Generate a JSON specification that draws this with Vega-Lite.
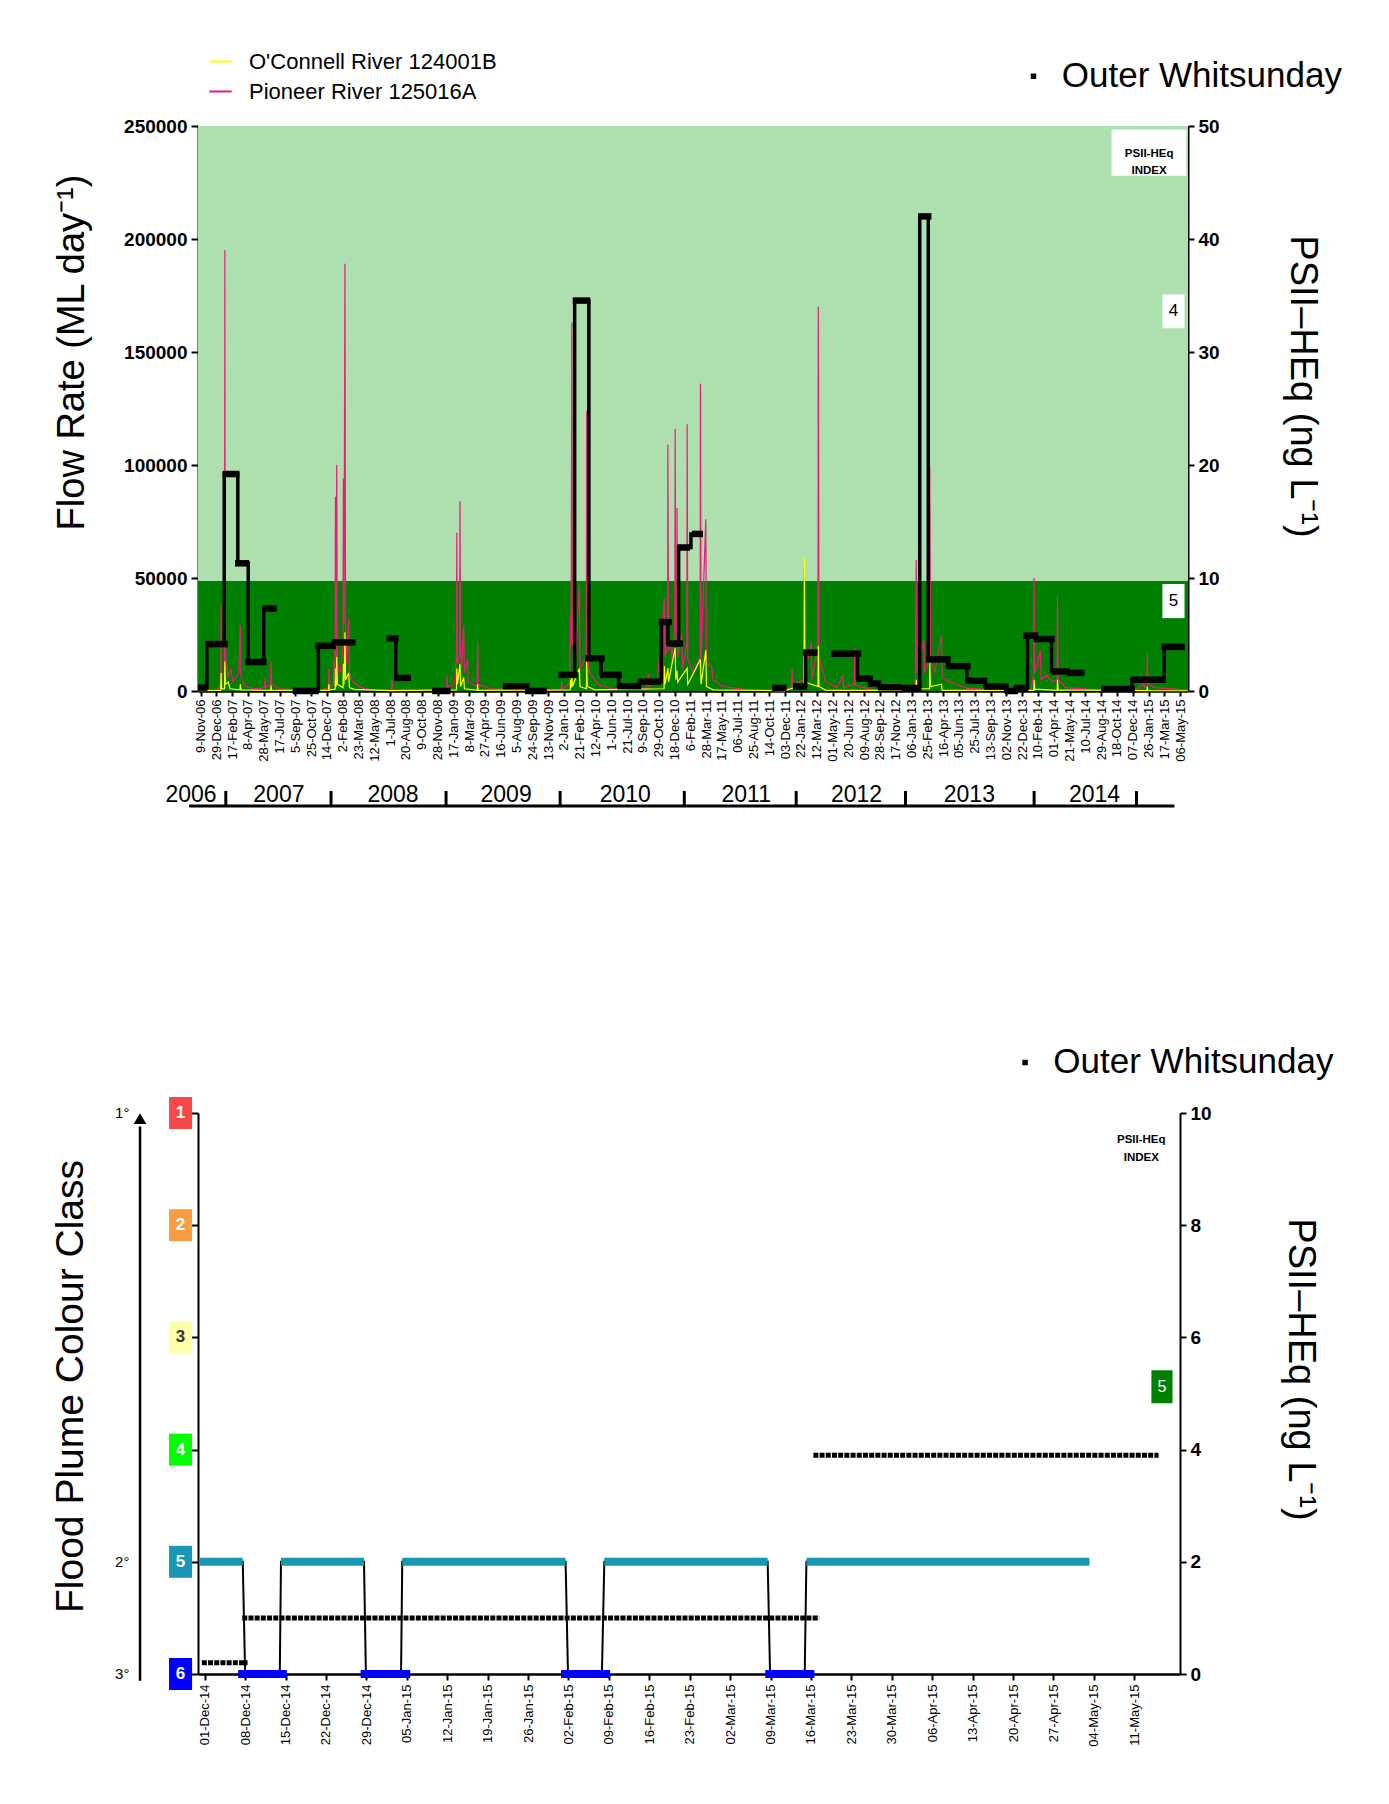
{
"$schema":"https://vega.github.io/schema/vega-lite/v6.json",
"padding":{"left":50,"top":49,"right":0,"bottom":0},
"background":"white",
"config":{"font":"Liberation Sans","view":{"stroke":null},
"axis":{"grid":false,"domainColor":"black","domainWidth":2,"tickColor":"black","tickWidth":2,"labelColor":"black","titleColor":"black","titleFontWeight":"normal","labelFont":"Liberation Sans","titleFont":"Liberation Sans","labelOverlap":false},
"axisX":{"labelOverlap":false}},
"resolve":{"scale":{"color":"independent"}},
"datasets":{
"pioneer":[{"d":"2006-11-01","f":300},{"d":"2006-12-20","f":500},{"d":"2007-01-05","f":800},{"d":"2007-01-12","f":3000},{"d":"2007-01-13","f":38000},{"d":"2007-01-14","f":6000},{"d":"2007-01-24","f":8000},{"d":"2007-01-25","f":195000},{"d":"2007-01-26","f":30000},{"d":"2007-01-27","f":33000},{"d":"2007-01-28","f":12000},{"d":"2007-02-02","f":9000},{"d":"2007-02-05","f":6000},{"d":"2007-02-12","f":10000},{"d":"2007-02-20","f":4000},{"d":"2007-03-10","f":8000},{"d":"2007-03-15","f":29000},{"d":"2007-03-17","f":6000},{"d":"2007-04-01","f":2000},{"d":"2007-05-01","f":800},{"d":"2007-05-30","f":1500},{"d":"2007-06-01","f":5500},{"d":"2007-06-03","f":1500},{"d":"2007-06-18","f":3000},{"d":"2007-06-20","f":13000},{"d":"2007-06-22","f":3000},{"d":"2007-07-15","f":1000},{"d":"2007-10-01","f":300},{"d":"2007-12-01","f":500},{"d":"2007-12-19","f":1500},{"d":"2007-12-20","f":10000},{"d":"2007-12-22","f":2000},{"d":"2008-01-04","f":3000},{"d":"2008-01-05","f":13000},{"d":"2008-01-07","f":4000},{"d":"2008-01-09","f":20000},{"d":"2008-01-10","f":86000},{"d":"2008-01-12","f":15000},{"d":"2008-01-14","f":100000},{"d":"2008-01-16","f":12000},{"d":"2008-01-25","f":8000},{"d":"2008-02-03","f":20000},{"d":"2008-02-04","f":94000},{"d":"2008-02-06","f":30000},{"d":"2008-02-09","f":189000},{"d":"2008-02-11","f":25000},{"d":"2008-02-14","f":12000},{"d":"2008-02-21","f":32000},{"d":"2008-02-23","f":8000},{"d":"2008-03-05","f":4000},{"d":"2008-04-01","f":1500},{"d":"2008-05-01","f":600},{"d":"2008-07-05","f":600},{"d":"2008-07-07","f":5000},{"d":"2008-07-09","f":600},{"d":"2008-10-01","f":300},{"d":"2008-12-20","f":500},{"d":"2008-12-27","f":1500},{"d":"2008-12-28","f":6600},{"d":"2008-12-30","f":1500},{"d":"2009-01-20","f":3000},{"d":"2009-01-27","f":15000},{"d":"2009-01-28","f":70000},{"d":"2009-01-30","f":12000},{"d":"2009-02-06","f":15000},{"d":"2009-02-07","f":84000},{"d":"2009-02-09","f":20000},{"d":"2009-02-12","f":10000},{"d":"2009-02-19","f":29000},{"d":"2009-02-21","f":8000},{"d":"2009-03-03","f":14000},{"d":"2009-03-05","f":4000},{"d":"2009-04-02","f":2000},{"d":"2009-04-04","f":22000},{"d":"2009-04-06","f":3000},{"d":"2009-05-15","f":1000},{"d":"2009-08-01","f":400},{"d":"2009-12-01","f":300},{"d":"2009-12-24","f":800},{"d":"2009-12-26","f":4000},{"d":"2009-12-28","f":1000},{"d":"2010-01-20","f":3000},{"d":"2010-01-23","f":33000},{"d":"2010-01-25","f":20000},{"d":"2010-01-27","f":163000},{"d":"2010-01-29","f":20000},{"d":"2010-02-05","f":40000},{"d":"2010-02-07","f":12000},{"d":"2010-02-20","f":47000},{"d":"2010-02-22","f":10000},{"d":"2010-03-14","f":15000},{"d":"2010-03-15","f":124000},{"d":"2010-03-17","f":15000},{"d":"2010-03-25","f":8000},{"d":"2010-04-20","f":3000},{"d":"2010-06-01","f":1000},{"d":"2010-09-20","f":1000},{"d":"2010-09-27","f":7500},{"d":"2010-09-29","f":2000},{"d":"2010-10-25","f":5000},{"d":"2010-11-16","f":41000},{"d":"2010-11-18","f":15000},{"d":"2010-11-26","f":20000},{"d":"2010-11-27","f":109000},{"d":"2010-11-29","f":18000},{"d":"2010-12-07","f":21600},{"d":"2010-12-10","f":12000},{"d":"2010-12-19","f":30000},{"d":"2010-12-20","f":116000},{"d":"2010-12-22","f":20000},{"d":"2010-12-25","f":25000},{"d":"2010-12-26","f":81000},{"d":"2010-12-28","f":15000},{"d":"2011-01-10","f":25000},{"d":"2011-01-12","f":10000},{"d":"2011-01-26","f":20000},{"d":"2011-01-27","f":118000},{"d":"2011-01-29","f":14000},{"d":"2011-02-03","f":12500},{"d":"2011-02-15","f":8000},{"d":"2011-03-09","f":15000},{"d":"2011-03-10","f":136000},{"d":"2011-03-12","f":14000},{"d":"2011-03-27","f":76000},{"d":"2011-03-29","f":12000},{"d":"2011-04-15","f":11000},{"d":"2011-04-18","f":5000},{"d":"2011-05-20","f":2000},{"d":"2011-08-01","f":600},{"d":"2011-12-01","f":400},{"d":"2011-12-24","f":2000},{"d":"2011-12-25","f":10000},{"d":"2011-12-27","f":2500},{"d":"2012-01-30","f":5000},{"d":"2012-02-02","f":55000},{"d":"2012-02-04","f":8000},{"d":"2012-02-24","f":21600},{"d":"2012-02-26","f":5000},{"d":"2012-03-16","f":20000},{"d":"2012-03-17","f":170000},{"d":"2012-03-19","f":15000},{"d":"2012-04-10","f":4000},{"d":"2012-05-15","f":1500},{"d":"2012-06-03","f":6600},{"d":"2012-06-05","f":1500},{"d":"2012-07-09","f":3000},{"d":"2012-07-10","f":19000},{"d":"2012-07-12","f":2500},{"d":"2012-09-01","f":600},{"d":"2012-12-15","f":400},{"d":"2013-01-18","f":3000},{"d":"2013-01-21","f":58000},{"d":"2013-01-23","f":8000},{"d":"2013-02-14","f":22800},{"d":"2013-02-16","f":8000},{"d":"2013-03-04","f":15000},{"d":"2013-03-05","f":99000},{"d":"2013-03-07","f":15000},{"d":"2013-03-20","f":8000},{"d":"2013-04-11","f":25000},{"d":"2013-04-13","f":6000},{"d":"2013-05-20","f":3300},{"d":"2013-07-01","f":1200},{"d":"2013-10-01","f":400},{"d":"2014-01-20","f":800},{"d":"2014-01-28","f":8000},{"d":"2014-01-29","f":50000},{"d":"2014-01-31","f":8000},{"d":"2014-02-18","f":18000},{"d":"2014-02-20","f":5000},{"d":"2014-03-10","f":7000},{"d":"2014-03-25","f":4000},{"d":"2014-04-12","f":5000},{"d":"2014-04-13","f":42000},{"d":"2014-04-15","f":5000},{"d":"2014-05-10","f":1500},{"d":"2014-09-01","f":300},{"d":"2014-12-20","f":600},{"d":"2015-01-10","f":3300},{"d":"2015-01-12","f":1500},{"d":"2015-01-21","f":3000},{"d":"2015-01-22","f":16600},{"d":"2015-01-24","f":3000},{"d":"2015-02-15","f":1500},{"d":"2015-05-31","f":400}],
"oconnell":[{"d":"2006-11-01","f":100},{"d":"2007-01-12","f":300},{"d":"2007-01-13","f":8000},{"d":"2007-01-15","f":1000},{"d":"2007-01-24","f":1000},{"d":"2007-01-25","f":13000},{"d":"2007-01-27","f":3000},{"d":"2007-02-05","f":4000},{"d":"2007-02-10","f":1000},{"d":"2007-03-14","f":500},{"d":"2007-03-15","f":3000},{"d":"2007-03-17","f":500},{"d":"2007-06-19","f":300},{"d":"2007-06-20","f":2500},{"d":"2007-06-22","f":300},{"d":"2007-12-19","f":300},{"d":"2007-12-20","f":3000},{"d":"2007-12-22","f":500},{"d":"2008-01-09","f":800},{"d":"2008-01-10","f":10000},{"d":"2008-01-12","f":2000},{"d":"2008-01-14","f":15000},{"d":"2008-01-16","f":3000},{"d":"2008-02-03","f":1500},{"d":"2008-02-04","f":12000},{"d":"2008-02-06","f":3000},{"d":"2008-02-09","f":26000},{"d":"2008-02-11","f":5000},{"d":"2008-02-21","f":8000},{"d":"2008-02-23","f":1500},{"d":"2008-03-10","f":700},{"d":"2008-07-01","f":200},{"d":"2009-01-27","f":500},{"d":"2009-01-28","f":10000},{"d":"2009-01-30","f":3000},{"d":"2009-02-07","f":12000},{"d":"2009-02-09","f":2000},{"d":"2009-02-19","f":6000},{"d":"2009-02-21","f":1000},{"d":"2009-04-03","f":300},{"d":"2009-04-04","f":3000},{"d":"2009-04-06","f":300},{"d":"2010-01-22","f":500},{"d":"2010-01-23","f":5000},{"d":"2010-01-25","f":1500},{"d":"2010-01-27","f":8000},{"d":"2010-01-29","f":2000},{"d":"2010-02-20","f":10000},{"d":"2010-02-22","f":2000},{"d":"2010-03-14","f":1000},{"d":"2010-03-15","f":13000},{"d":"2010-03-17","f":2000},{"d":"2010-04-10","f":500},{"d":"2010-11-15","f":1000},{"d":"2010-11-16","f":11000},{"d":"2010-11-18","f":3000},{"d":"2010-11-27","f":10000},{"d":"2010-11-29","f":4000},{"d":"2010-12-20","f":19000},{"d":"2010-12-22","f":5000},{"d":"2010-12-26","f":9000},{"d":"2010-12-28","f":4000},{"d":"2011-01-27","f":10000},{"d":"2011-01-29","f":3000},{"d":"2011-03-10","f":14000},{"d":"2011-03-12","f":3000},{"d":"2011-03-27","f":18000},{"d":"2011-03-29","f":2000},{"d":"2011-04-20","f":500},{"d":"2011-12-01","f":100},{"d":"2012-02-01","f":3000},{"d":"2012-02-02","f":59000},{"d":"2012-02-04","f":4000},{"d":"2012-03-16","f":2000},{"d":"2012-03-17","f":20000},{"d":"2012-03-19","f":2000},{"d":"2012-04-10","f":300},{"d":"2013-01-20","f":300},{"d":"2013-01-21","f":5000},{"d":"2013-01-23","f":1000},{"d":"2013-03-04","f":1000},{"d":"2013-03-05","f":12500},{"d":"2013-03-07","f":2000},{"d":"2013-04-11","f":3000},{"d":"2013-04-13","f":300},{"d":"2014-01-28","f":300},{"d":"2014-01-29","f":5000},{"d":"2014-01-31","f":800},{"d":"2014-04-12","f":300},{"d":"2014-04-13","f":5000},{"d":"2014-04-15","f":500},{"d":"2015-01-21","f":200},{"d":"2015-01-22","f":2000},{"d":"2015-01-24","f":200},{"d":"2015-05-31","f":100}],
"steps":[{"run":"A","d":"2006-11-01","v":0.3},{"run":"A","d":"2006-11-29","v":4.15},{"run":"A","d":"2007-01-23","v":19.2},{"run":"A","d":"2007-03-07","v":11.3},{"run":"A","d":"2007-04-09","v":2.56},{"run":"A","d":"2007-05-28","v":7.3},{"run":"A","d":"2007-07-08","v":7.3},
{"run":"B","d":"2007-08-28","v":0},{"run":"B","d":"2007-11-17","v":4.0},{"run":"B","d":"2008-01-05","v":4.3},{"run":"B","d":"2008-03-13","v":4.3},
{"run":"C","d":"2008-06-20","v":4.65},{"run":"C","d":"2008-07-19","v":1.16},{"run":"C","d":"2008-09-05","v":1.16},
{"run":"D","d":"2008-11-11","v":0},{"run":"D","d":"2009-01-08","v":0},
{"run":"E","d":"2009-06-23","v":0.43},{"run":"E","d":"2009-09-08","v":0},{"run":"E","d":"2009-11-09","v":0},
{"run":"F","d":"2009-12-16","v":1.43},{"run":"F","d":"2010-02-05","v":34.55},{"run":"F","d":"2010-03-22","v":2.9},{"run":"F","d":"2010-04-30","v":1.43},{"run":"F","d":"2010-06-24","v":0.43},{"run":"F","d":"2010-08-29","v":0.83},{"run":"F","d":"2010-11-06","v":6.1},{"run":"F","d":"2010-11-27","v":4.2},{"run":"F","d":"2010-12-31","v":12.7},{"run":"F","d":"2011-02-08","v":13.9},{"run":"F","d":"2011-03-18","v":13.9},
{"run":"G","d":"2011-10-23","v":0.27},{"run":"G","d":"2011-12-07","v":0.27},
{"run":"H","d":"2011-12-28","v":0.4},{"run":"H","d":"2012-02-06","v":3.4},{"run":"H","d":"2012-03-14","v":3.4},
{"run":"I","d":"2012-04-27","v":3.3},{"run":"I","d":"2012-07-19","v":1.1},{"run":"I","d":"2012-08-26","v":0.66},{"run":"I","d":"2012-09-25","v":0.33},{"run":"I","d":"2012-12-05","v":0.27},{"run":"I","d":"2013-02-01","v":42.0},{"run":"I","d":"2013-02-28","v":2.8},{"run":"I","d":"2013-04-30","v":2.2},{"run":"I","d":"2013-06-30","v":0.9},{"run":"I","d":"2013-08-27","v":0.4},{"run":"I","d":"2013-10-31","v":0},{"run":"I","d":"2013-11-29","v":0.27},{"run":"I","d":"2014-01-08","v":4.9},{"run":"I","d":"2014-02-02","v":4.6},{"run":"I","d":"2014-03-25","v":1.73},{"run":"I","d":"2014-05-15","v":1.6},{"run":"I","d":"2014-07-07","v":1.6},
{"run":"J","d":"2014-08-30","v":0.17},{"run":"J","d":"2014-12-04","v":1.0},{"run":"J","d":"2015-03-17","v":3.9},{"run":"J","d":"2015-05-21","v":3.9}],
"bars":[{"s":"2006-11-01","e":"2006-12-01","v":0.3},{"s":"2006-11-23","e":"2007-02-04","v":4.15},{"s":"2007-01-18","e":"2007-03-12","v":19.2},{"s":"2007-02-26","e":"2007-04-12","v":11.3},{"s":"2007-03-31","e":"2007-06-06","v":2.56},{"s":"2007-05-25","e":"2007-07-08","v":7.3},{"s":"2007-08-28","e":"2007-11-18","v":0},{"s":"2007-11-06","e":"2008-01-12","v":4.0},{"s":"2007-12-29","e":"2008-03-13","v":4.3},{"s":"2008-06-20","e":"2008-07-28","v":4.65},{"s":"2008-07-15","e":"2008-09-05","v":1.16},{"s":"2008-11-11","e":"2009-01-08","v":0},{"s":"2009-06-23","e":"2009-09-15","v":0.43},{"s":"2009-09-01","e":"2009-11-09","v":0},{"s":"2009-12-16","e":"2010-02-15","v":1.43},{"s":"2010-01-30","e":"2010-03-26","v":34.55},{"s":"2010-03-10","e":"2010-05-11","v":2.9},{"s":"2010-04-26","e":"2010-07-05","v":1.43},{"s":"2010-06-20","e":"2010-09-04","v":0.43},{"s":"2010-08-24","e":"2010-11-06","v":0.83},{"s":"2010-10-29","e":"2010-12-10","v":6.1},{"s":"2010-11-25","e":"2011-01-14","v":4.2},{"s":"2010-12-27","e":"2011-02-05","v":12.7},{"s":"2011-02-11","e":"2011-03-18","v":13.9},{"s":"2011-10-23","e":"2011-12-07","v":0.27},{"s":"2011-12-28","e":"2012-02-10","v":0.4},{"s":"2012-01-29","e":"2012-03-14","v":3.4},{"s":"2012-04-27","e":"2012-07-31","v":3.3},{"s":"2012-07-16","e":"2012-09-06","v":1.1},{"s":"2012-08-22","e":"2012-10-03","v":0.66},{"s":"2012-09-22","e":"2012-12-05","v":0.33},{"s":"2012-12-05","e":"2013-02-06","v":0.27},{"s":"2013-01-27","e":"2013-03-10","v":42.0},{"s":"2013-02-22","e":"2013-05-10","v":2.8},{"s":"2013-04-27","e":"2013-07-12","v":2.2},{"s":"2013-06-27","e":"2013-09-03","v":0.9},{"s":"2013-08-24","e":"2013-11-10","v":0.4},{"s":"2013-10-28","e":"2013-12-09","v":0},{"s":"2013-11-26","e":"2014-01-10","v":0.27},{"s":"2013-12-25","e":"2014-02-11","v":4.9},{"s":"2014-01-29","e":"2014-04-04","v":4.6},{"s":"2014-03-25","e":"2014-05-22","v":1.73},{"s":"2014-05-11","e":"2014-07-07","v":1.6},{"s":"2014-08-30","e":"2014-12-14","v":0.17},{"s":"2014-12-01","e":"2015-03-22","v":1.0},{"s":"2015-03-08","e":"2015-05-21","v":3.9}],
"years":[{"label":"2006","d":"2006-10-10"},{"label":"2007","d":"2007-07-15"},{"label":"2008","d":"2008-07-10"},{"label":"2009","d":"2009-07-03"},{"label":"2010","d":"2010-07-15"},{"label":"2011","d":"2011-08-02"},{"label":"2012","d":"2012-07-16"},{"label":"2013","d":"2013-07-08"},{"label":"2014","d":"2014-08-08"}],
"yearsep":[{"d":"2007-01-28"},{"d":"2007-12-27"},{"d":"2008-12-25"},{"d":"2009-12-21"},{"d":"2011-01-18"},{"d":"2012-01-07"},{"d":"2012-12-18"},{"d":"2014-01-29"},{"d":"2014-12-19"}],
"classes":[{"cls":1},{"cls":2},{"cls":3},{"cls":4},{"cls":5},{"cls":6}],
"degrees":[{"label":"1°","cls":1},{"label":"2°","cls":5},{"label":"3°","cls":6}],
"classline":[{"d":"2014-11-30T00:00:00","cls":5},{"d":"2014-12-07T14:00:00","cls":5},{"d":"2014-12-08T00:00:00","cls":6},{"d":"2014-12-14T00:00:00","cls":6},{"d":"2014-12-14T05:00:00","cls":5},{"d":"2014-12-28T14:00:00","cls":5},{"d":"2014-12-28T22:00:00","cls":6},{"d":"2015-01-04T00:00:00","cls":6},{"d":"2015-01-04T05:00:00","cls":5},{"d":"2015-02-01T12:00:00","cls":5},{"d":"2015-02-01T22:00:00","cls":6},{"d":"2015-02-07T19:00:00","cls":6},{"d":"2015-02-08T05:00:00","cls":5},{"d":"2015-03-08T12:00:00","cls":5},{"d":"2015-03-08T22:00:00","cls":6},{"d":"2015-03-14T22:00:00","cls":6},{"d":"2015-03-15T05:00:00","cls":5},{"d":"2015-05-03T05:00:00","cls":5}],
"segments":[{"s":"2014-11-30T00:00:00","e":"2014-12-07T14:00:00","cls":5},{"s":"2014-12-14T05:00:00","e":"2014-12-28T14:00:00","cls":5},{"s":"2015-01-04T05:00:00","e":"2015-02-01T12:00:00","cls":5},{"s":"2015-02-08T05:00:00","e":"2015-03-08T12:00:00","cls":5},{"s":"2015-03-15T05:00:00","e":"2015-05-03T05:00:00","cls":5},{"s":"2014-12-06T19:00:00","e":"2014-12-15T05:00:00","cls":6},{"s":"2014-12-28T00:00:00","e":"2015-01-05T14:00:00","cls":6},{"s":"2015-01-31T17:00:00","e":"2015-02-09T05:00:00","cls":6},{"s":"2015-03-08T02:00:00","e":"2015-03-16T14:00:00","cls":6}],
"psii2":[{"s":"2014-11-30T12:00:00","e":"2014-12-08T10:00:00","v":0.2},{"s":"2014-12-07T12:00:00","e":"2015-03-17T10:00:00","v":1.0},{"s":"2015-03-16T10:00:00","e":"2015-05-15T05:00:00","v":3.9}]
},
"spacing":236,
"vconcat":[
{"width":990,"height":565,
"layer":[
{"layer":[
{"data":{"values":[{}]},"mark":{"type":"rect","color":"#008000"},"encoding":{"x":{"datum":{"year":2006,"month":11,"date":1},"type":"temporal"},"x2":{"datum":{"year":2015,"month":5,"date":31}},"y":{"datum":0,"type":"quantitative"},"y2":{"datum":48750}}},
{"data":{"values":[{}]},"mark":{"type":"rect","color":"#aedfae"},"encoding":{"x":{"datum":{"year":2006,"month":11,"date":1},"type":"temporal"},"x2":{"datum":{"year":2015,"month":5,"date":31}},"y":{"datum":48750,"type":"quantitative"},"y2":{"datum":250000}}},
{"data":{"name":"pioneer"},"mark":{"type":"line","strokeWidth":1.2},"encoding":{
"x":{"field":"d","type":"temporal","scale":{"domain":[{"year":2006,"month":11,"date":1},{"year":2015,"month":5,"date":31}],"nice":false},
"axis":{"values":[{"year":2006,"month":11,"date":9},{"year":2006,"month":12,"date":29},{"year":2007,"month":2,"date":17},{"year":2007,"month":4,"date":8},{"year":2007,"month":5,"date":28},{"year":2007,"month":7,"date":17},{"year":2007,"month":9,"date":5},{"year":2007,"month":10,"date":25},{"year":2007,"month":12,"date":14},{"year":2008,"month":2,"date":2},{"year":2008,"month":3,"date":23},{"year":2008,"month":5,"date":12},{"year":2008,"month":7,"date":1},{"year":2008,"month":8,"date":20},{"year":2008,"month":10,"date":9},{"year":2008,"month":11,"date":28},{"year":2009,"month":1,"date":17},{"year":2009,"month":3,"date":8},{"year":2009,"month":4,"date":27},{"year":2009,"month":6,"date":16},{"year":2009,"month":8,"date":5},{"year":2009,"month":9,"date":24},{"year":2009,"month":11,"date":13},{"year":2010,"month":1,"date":2},{"year":2010,"month":2,"date":21},{"year":2010,"month":4,"date":12},{"year":2010,"month":6,"date":1},{"year":2010,"month":7,"date":21},{"year":2010,"month":9,"date":9},{"year":2010,"month":10,"date":29},{"year":2010,"month":12,"date":18},{"year":2011,"month":2,"date":6},{"year":2011,"month":3,"date":28},{"year":2011,"month":5,"date":17},{"year":2011,"month":7,"date":6},{"year":2011,"month":8,"date":25},{"year":2011,"month":10,"date":14},{"year":2011,"month":12,"date":3},{"year":2012,"month":1,"date":22},{"year":2012,"month":3,"date":12},{"year":2012,"month":5,"date":1},{"year":2012,"month":6,"date":20},{"year":2012,"month":8,"date":9},{"year":2012,"month":9,"date":28},{"year":2012,"month":11,"date":17},{"year":2013,"month":1,"date":6},{"year":2013,"month":2,"date":25},{"year":2013,"month":4,"date":16},{"year":2013,"month":6,"date":5},{"year":2013,"month":7,"date":25},{"year":2013,"month":9,"date":13},{"year":2013,"month":11,"date":2},{"year":2013,"month":12,"date":22},{"year":2014,"month":2,"date":10},{"year":2014,"month":4,"date":1},{"year":2014,"month":5,"date":21},{"year":2014,"month":7,"date":10},{"year":2014,"month":8,"date":29},{"year":2014,"month":10,"date":18},{"year":2014,"month":12,"date":7},{"year":2015,"month":1,"date":26},{"year":2015,"month":3,"date":17},{"year":2015,"month":5,"date":6}],
"tickCount":200,
"labelExpr":"datum.value < datetime(2011, 5, 1) ? timeFormat(datum.value, '%-d-%b-%y') : timeFormat(datum.value, '%d-%b-%y')","labelAngle":270,"labelFontSize":13,"labelOverlap":false,"labelFlush":false,"tickSize":5,"labelPadding":3,"title":null,"domainWidth":2.5}},
"y":{"field":"f","type":"quantitative","scale":{"domain":[0,250000],"nice":false,"zero":false},
"axis":{"values":[0,50000,100000,150000,200000,250000],"format":"d","labelFontSize":19,"labelFontWeight":"bold","tickSize":7,"labelPadding":4,"title":"Flow Rate (ML day⁻¹)","titleFontSize":38,"titleX":-126,"titleY":226,"titleBaseline":"middle","titleAngle":270}},
"color":{"datum":"Pioneer River 125016A","type":"nominal","scale":{"domain":["O'Connell River 124001B","Pioneer River 125016A"],"range":["#ffff00","#ee1a7a"]},
"legend":{"orient":"none","legendX":10,"legendY":-77,"title":null,"symbolType":"stroke","symbolStrokeWidth":2,"symbolSize":500,"labelFontSize":22,"labelFont":"Liberation Sans","labelColor":"black","labelLimit":500,"rowPadding":6,"labelOffset":16,"padding":0,"direction":"vertical"}}}},
{"data":{"name":"oconnell"},"mark":{"type":"line","strokeWidth":1.2},"encoding":{"x":{"field":"d","type":"temporal"},"y":{"field":"f","type":"quantitative"},"color":{"datum":"O'Connell River 124001B","type":"nominal"}}},
{"data":{"values":[{}]},"mark":{"type":"rule","strokeWidth":3,"color":"black"},"encoding":{"x":{"datum":{"year":2006,"month":10,"date":4},"type":"temporal"},"x2":{"datum":{"year":2015,"month":4,"date":18}},"y":{"datum":-50900,"type":"quantitative"}}},
{"data":{"name":"yearsep"},"mark":{"type":"rule","strokeWidth":3,"color":"black"},"encoding":{"x":{"field":"d","type":"temporal"},"y":{"datum":-44250,"type":"quantitative"},"y2":{"datum":-50900}}},
{"data":{"name":"years"},"mark":{"type":"text","fontSize":23,"baseline":"middle","align":"center","color":"black"},"encoding":{"x":{"field":"d","type":"temporal"},"y":{"datum":-46000,"type":"quantitative"},"text":{"field":"label","type":"nominal"}}}
]},
{"layer":[
{"data":{"name":"steps"},"mark":{"type":"line","interpolate":"step-after","strokeWidth":3.5,"color":"black"},"encoding":{"x":{"field":"d","type":"temporal"},"y":{"field":"v","type":"quantitative","scale":{"domain":[0,50],"nice":false,"zero":false},
"axis":{"orient":"right","values":[0,10,20,30,40,50],"format":"d","labelFontSize":19,"labelFontWeight":"bold","tickSize":6,"labelPadding":4,"title":"PSII–HEq (ng L⁻¹)","titleFontSize":38,"titleX":113,"titleY":260,"titleAngle":90,"titleBaseline":"middle"}},"detail":{"field":"run","type":"nominal"}}},
{"data":{"name":"bars"},"mark":{"type":"rule","strokeWidth":6.5,"color":"black","strokeCap":"butt"},"encoding":{"x":{"field":"s","type":"temporal"},"x2":{"field":"e"},"y":{"field":"v","type":"quantitative"}}},
{"data":{"values":[{}]},"mark":{"type":"rect","color":"white"},"encoding":{"x":{"datum":{"year":2014,"month":10,"date":1},"type":"temporal"},"x2":{"datum":{"year":2015,"month":5,"date":26}},"y":{"datum":45.6,"type":"quantitative"},"y2":{"datum":49.7}}},
{"data":{"values":[{}]},"mark":{"type":"text","text":["PSII-HEq","INDEX"],"fontSize":11.5,"fontWeight":"bold","lineHeight":17,"baseline":"middle","align":"center","color":"black"},"encoding":{"x":{"datum":{"year":2015,"month":1,"date":28},"type":"temporal"},"y":{"datum":47.55,"type":"quantitative"}}},
{"data":{"values":[{}]},"mark":{"type":"rect","color":"white"},"encoding":{"x":{"datum":{"year":2015,"month":3,"date":11},"type":"temporal"},"x2":{"datum":{"year":2015,"month":5,"date":20}},"y":{"datum":32.1,"type":"quantitative"},"y2":{"datum":35.1}}},
{"data":{"values":[{}]},"mark":{"type":"text","text":"4","fontSize":17,"baseline":"middle","align":"center","color":"black"},"encoding":{"x":{"datum":{"year":2015,"month":4,"date":15},"type":"temporal"},"y":{"datum":33.6,"type":"quantitative"}}},
{"data":{"values":[{}]},"mark":{"type":"rect","color":"white"},"encoding":{"x":{"datum":{"year":2015,"month":3,"date":11},"type":"temporal"},"x2":{"datum":{"year":2015,"month":5,"date":20}},"y":{"datum":6.45,"type":"quantitative"},"y2":{"datum":9.47}}},
{"data":{"values":[{}]},"mark":{"type":"text","text":"5","fontSize":17,"baseline":"middle","align":"center","color":"black"},"encoding":{"x":{"datum":{"year":2015,"month":4,"date":15},"type":"temporal"},"y":{"datum":7.96,"type":"quantitative"}}},
{"data":{"values":[{}]},"mark":{"type":"point","shape":"square","filled":true,"size":30,"opacity":1,"color":"black"},"encoding":{"x":{"datum":{"year":2014,"month":1,"date":27},"type":"temporal"},"y":{"datum":54.4,"type":"quantitative"}}},
{"data":{"values":[{}]},"mark":{"type":"text","text":"Outer Whitsunday","fontSize":35,"baseline":"middle","align":"right","color":"black"},"encoding":{"x":{"datum":{"year":2016,"month":9,"date":29},"type":"temporal"},"y":{"datum":54.4,"type":"quantitative"}}}
]}
],
"resolve":{"scale":{"y":"independent"}}
},
{"width":982,"height":561,
"layer":[
{"layer":[
{"data":{"name":"classline"},"mark":{"type":"line","strokeWidth":2,"color":"black"},"encoding":{
"x":{"field":"d","type":"temporal","scale":{"domain":[{"year":2014,"month":11,"date":29,"hours":20},{"year":2015,"month":5,"date":18,"hours":22}],"nice":false},
"axis":{"values":[{"year":2014,"month":12,"date":1},{"year":2014,"month":12,"date":8},{"year":2014,"month":12,"date":15},{"year":2014,"month":12,"date":22},{"year":2014,"month":12,"date":29},{"year":2015,"month":1,"date":5},{"year":2015,"month":1,"date":12},{"year":2015,"month":1,"date":19},{"year":2015,"month":1,"date":26},{"year":2015,"month":2,"date":2},{"year":2015,"month":2,"date":9},{"year":2015,"month":2,"date":16},{"year":2015,"month":2,"date":23},{"year":2015,"month":3,"date":2},{"year":2015,"month":3,"date":9},{"year":2015,"month":3,"date":16},{"year":2015,"month":3,"date":23},{"year":2015,"month":3,"date":30},{"year":2015,"month":4,"date":6},{"year":2015,"month":4,"date":13},{"year":2015,"month":4,"date":20},{"year":2015,"month":4,"date":27},{"year":2015,"month":5,"date":4},{"year":2015,"month":5,"date":11}],
"tickCount":200,
"format":"%d-%b-%y","labelAngle":270,"labelFontSize":13,"labelOverlap":false,"labelFlush":false,"tickSize":6,"labelPadding":4,"title":null,"domainWidth":2.5}},
"y":{"field":"cls","type":"quantitative","scale":{"domain":[1,6],"reverse":true,"nice":false,"zero":false},
"axis":{"values":[1,2,3,4,5,6],"labels":false,"tickSize":7,"title":"Flood Plume Colour Class","titleFontSize":39,"titleX":-128,"titleY":273,"titleBaseline":"middle","titleAngle":270}}}},
{"data":{"name":"segments"},"mark":{"type":"rule","strokeWidth":8,"strokeCap":"butt"},"encoding":{"x":{"field":"s","type":"temporal"},"x2":{"field":"e"},"y":{"field":"cls","type":"quantitative"},"color":{"field":"cls","type":"nominal","scale":{"domain":[1,2,3,4,5,6],"range":["#f54848","#f99d45","#ffffa8","#00ff00","#1797b3","#0000ff"]},"legend":null}}},
{"data":{"values":[{}]},"mark":{"type":"rule","strokeWidth":2.5,"color":"black"},"encoding":{"x":{"datum":{"year":2014,"month":11,"date":19,"hours":19},"type":"temporal"},"y":{"datum":6.06,"type":"quantitative"},"y2":{"datum":1.12}}},
{"data":{"values":[{}]},"mark":{"type":"point","shape":"triangle-up","filled":true,"size":160,"opacity":1,"color":"black"},"encoding":{"x":{"datum":{"year":2014,"month":11,"date":19,"hours":19},"type":"temporal"},"y":{"datum":1.05,"type":"quantitative"}}},
{"data":{"name":"classes"},"mark":{"type":"point","shape":"M-0.72,-1H0.72V1H-0.72Z","filled":true,"size":1024,"opacity":1,"strokeWidth":0},"encoding":{"x":{"datum":{"year":2014,"month":11,"date":26,"hours":19,"minutes":30},"type":"temporal"},"y":{"field":"cls","type":"quantitative"},"color":{"field":"cls","type":"nominal","legend":null}}},
{"data":{"name":"classes"},"mark":{"type":"text","fontSize":17,"fontWeight":"bold","baseline":"middle","align":"center"},"encoding":{"x":{"datum":{"year":2014,"month":11,"date":26,"hours":19,"minutes":30},"type":"temporal"},"y":{"field":"cls","type":"quantitative"},"text":{"field":"cls","type":"nominal"},"color":{"condition":{"test":"datum.cls == 3","value":"#333333"},"value":"white"}}},
{"data":{"name":"degrees"},"mark":{"type":"text","fontSize":15,"baseline":"middle","align":"center","color":"black"},"encoding":{"x":{"datum":{"year":2014,"month":11,"date":16,"hours":17},"type":"temporal"},"y":{"field":"cls","type":"quantitative"},"text":{"field":"label","type":"nominal"}}}
]},
{"layer":[
{"data":{"name":"psii2"},"mark":{"type":"rule","strokeWidth":5,"strokeDash":[5,1.2],"color":"black","strokeCap":"butt"},"encoding":{"x":{"field":"s","type":"temporal"},"x2":{"field":"e"},"y":{"field":"v","type":"quantitative","scale":{"domain":[0,10],"nice":false,"zero":false},
"axis":{"orient":"right","values":[0,2,4,6,8,10],"format":"d","labelFontSize":19,"labelFontWeight":"bold","tickSize":6,"labelPadding":4,"title":"PSII–HEq (ng L⁻¹)","titleFontSize":38,"titleX":119,"titleY":256,"titleAngle":90,"titleBaseline":"middle"}}}},
{"data":{"values":[{}]},"mark":{"type":"text","text":["PSII-HEq","INDEX"],"fontSize":11.5,"fontWeight":"bold","lineHeight":18,"baseline":"middle","align":"center","color":"black"},"encoding":{"x":{"datum":{"year":2015,"month":5,"date":12,"hours":5},"type":"temporal"},"y":{"datum":9.52,"type":"quantitative"}}},
{"data":{"values":[{}]},"mark":{"type":"point","shape":"M-0.64,-1H0.64V1H-0.64Z","filled":true,"size":1089,"opacity":1,"strokeWidth":0,"color":"#008000"},"encoding":{"x":{"datum":{"year":2015,"month":5,"date":15,"hours":19},"type":"temporal"},"y":{"datum":5.12,"type":"quantitative"}}},
{"data":{"values":[{}]},"mark":{"type":"text","text":"5","fontSize":16,"baseline":"middle","align":"center","color":"white"},"encoding":{"x":{"datum":{"year":2015,"month":5,"date":15,"hours":19},"type":"temporal"},"y":{"datum":5.12,"type":"quantitative"}}},
{"data":{"values":[{}]},"mark":{"type":"point","shape":"square","filled":true,"size":30,"opacity":1,"color":"black"},"encoding":{"x":{"datum":{"year":2015,"month":4,"date":22,"hours":2},"type":"temporal"},"y":{"datum":10.9,"type":"quantitative"}}},
{"data":{"values":[{}]},"mark":{"type":"text","text":"Outer Whitsunday","fontSize":35,"baseline":"middle","align":"right","color":"black"},"encoding":{"x":{"datum":{"year":2015,"month":6,"date":14,"hours":12},"type":"temporal"},"y":{"datum":10.91,"type":"quantitative"}}}
]}
],
"resolve":{"scale":{"y":"independent"}}
}
]
}
